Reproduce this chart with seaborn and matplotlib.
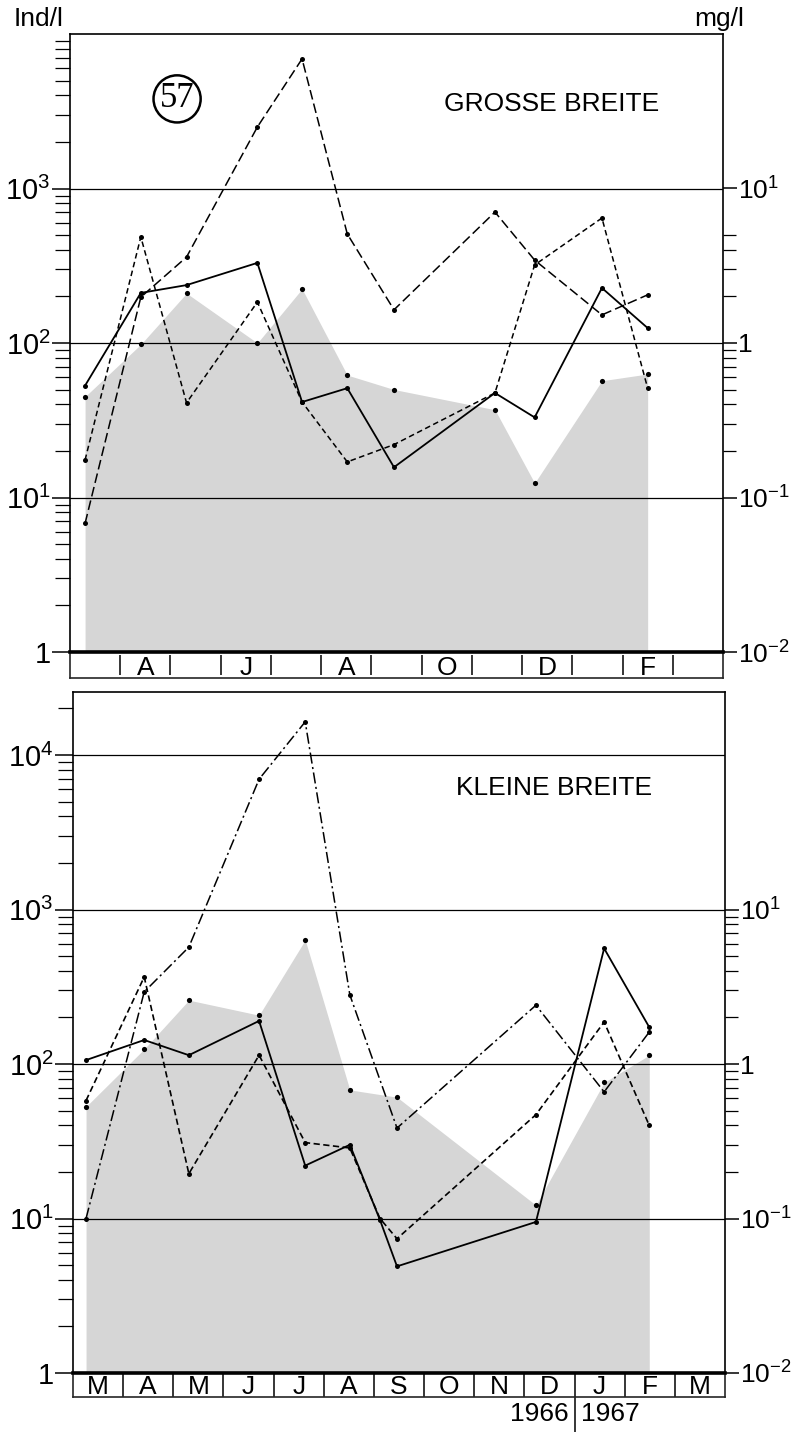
import numpy as np
import matplotlib
matplotlib.use("Agg")
import matplotlib.pyplot as plt
import seaborn as sns
from matplotlib.ticker import FixedLocator, FuncFormatter, NullFormatter

# ------------------------------------------------------------------ data
nan = np.nan
# sampling dates in months after 1 March 1966
top_months = [0.30, 1.41, 2.32, 3.73, 4.62, 5.52, 6.45, 8.46, 9.25, 10.59, 11.50]
top_solid = [53, 211, 237, 330, 41.5, 51, 15.7, 47.5, 33, 227, 125]
top_dashed = [17.5, 486, 41, 184, 41.5, 17, 22, 47.5, 320, 644, 51]
top_longdash = [6.8, 198, 360, 2500, 6900, 508, 164, 704, 344, 152, 205]
top_biomass = [0.45, 0.98, 2.1, 1.0, 2.24, 0.62, 0.50, 0.37, 0.124, 0.57, 0.63]  # mg/l

bot_months = [0.26, 1.42, 2.31, 3.71, 4.63, 5.52, 6.12, 6.46, 9.23, 10.59, 11.49]
bot_solid = [106, 143, 114, 190, 22, 30, 9.8, 4.9, 9.5, 560, 173]
bot_dashed = [58, 366, 19.5, 114, 31, 28.6, 10, 7.4, 47, 187, 40]
bot_dashdot = [10, 293, 571, 6970, 16400, 280, nan, 38.5, 240, 66, 161]
bot_biomass = [0.53, 1.25, 2.59, 2.07, 6.35, 0.68, nan, 0.61, 0.122, 0.76, 1.14]  # mg/l

month_labels = ["M", "A", "M", "J", "J", "A", "S", "O", "N", "D", "J", "F", "M"]
top_shown_months = [1, 3, 5, 7, 9, 11]
year_labels = ["1966", "1967"]
year_break = 10  # Dec/Jan boundary

top_title = "GROSSE BREITE"
bot_title = "KLEINE BREITE"
station = "57"

# ------------------------------------------------------------------ style
sns.set_style("white")
plt.rcParams["font.family"] = ["Liberation Sans", "DejaVu Sans"]
plt.rcParams["mathtext.fontset"] = "custom"
plt.rcParams["mathtext.rm"] = "Liberation Sans"
plt.rcParams["lines.scale_dashes"] = False
plt.rcParams["text.color"] = "black"
plt.rcParams["axes.labelcolor"] = "black"
plt.rcParams["xtick.color"] = "black"
plt.rcParams["ytick.color"] = "black"

W, H = 798, 1432
fig = plt.figure(figsize=(W / 100, H / 100), dpi=100)
fig.patch.set_facecolor("white")


def fx(px):
    return px / W


def fy(px):
    return 1 - px / H


def pow_fmt(v, pos):
    e = int(round(np.log10(v)))
    if e == 0:
        return "1"
    return r"$\mathregular{10^{%d}}$" % e


GRAY = "#d6d6d6"


def minor_list(decades, subs):
    out = []
    for d in decades:
        for s in subs:
            out.append(s * 10.0 ** d)
    return out


def draw_panel(x0, x1, ytop, ybot, ytop_val, months, series, biomass,
               left_major, right_major, left_minor, right_minor):
    ax = fig.add_axes([fx(x0), fy(ybot), fx(x1 - x0), (ybot - ytop) / H])
    axb = ax.twinx()
    ax.set_zorder(axb.get_zorder() + 1)
    ax.patch.set_visible(False)

    for a in (ax, axb):
        a.set_yscale("log")
        a.set_xlim(0, 13)
    ax.set_ylim(1, ytop_val)
    axb.set_ylim(0.01, ytop_val / 100)

    # biomass shaded area (mg/l, right axis)
    bm = np.array(biomass, dtype=float)
    xm = np.array(months, dtype=float)
    ok = ~np.isnan(bm)
    axb.fill_between(xm[ok], bm[ok], 0.01, color=GRAY, lw=0)
    sns.scatterplot(x=xm[ok], y=bm[ok], ax=axb, color="black", s=14,
                    linewidth=0, zorder=3)

    # line series (Ind/l, left axis)
    for vals, dashes, lw in series:
        v = np.array(vals, dtype=float)
        k = ~np.isnan(v)
        sns.lineplot(x=xm[k], y=v[k], ax=ax, color="black", lw=lw,
                     marker="o", markersize=3.6, markeredgewidth=0,
                     sort=False, estimator=None, zorder=4)
        ln = ax.lines[-1]
        if dashes is not None:
            ln.set_dashes(dashes)

    # grid lines
    for g in left_major[1:]:
        ax.axhline(g, color="black", lw=0.9, zorder=2)

    ax.set_xticks([])
    axb.set_xticks([])
    ax.yaxis.set_major_locator(FixedLocator(left_major))
    ax.yaxis.set_major_formatter(FuncFormatter(pow_fmt))
    ax.yaxis.set_minor_locator(FixedLocator(left_minor))
    ax.yaxis.set_minor_formatter(NullFormatter())
    axb.yaxis.set_major_locator(FixedLocator(right_major))
    axb.yaxis.set_major_formatter(FuncFormatter(pow_fmt))
    axb.yaxis.set_minor_locator(FixedLocator(right_minor))
    axb.yaxis.set_minor_formatter(NullFormatter())

    ax.tick_params(axis="y", which="major", direction="out", length=13,
                   width=1.1, labelsize=21, pad=1, left=True, right=False,
                   colors="black")
    ax.tick_params(axis="y", which="minor", direction="out", length=11,
                   width=0.9, left=True, right=False)
    axb.tick_params(axis="y", which="major", direction="out", length=10,
                    width=1.1, labelsize=19, pad=1, right=True, left=False,
                    colors="black")
    axb.tick_params(axis="y", which="minor", direction="out", length=9,
                    width=0.9, right=True, left=False)

    for s in axb.spines.values():
        s.set_visible(False)
    for name, s in ax.spines.items():
        s.set_visible(True)
        s.set_color("black")
        s.set_linewidth(1.2)
    ax.spines["bottom"].set_linewidth(2.6)
    return ax, axb


# ------------------------------------------------------------------ top panel
ax1, ax1b = draw_panel(
    70, 723, 34, 652, 1e4, top_months,
    [(top_solid, None, 1.3), (top_dashed, (4, 2.5), 1.1),
     (top_longdash, (7, 3), 1.1)],
    top_biomass,
    [1, 10, 100, 1000], [0.01, 0.1, 1, 10],
    minor_list([0, 1, 2, 3], range(2, 10)),
    minor_list([-1], range(2, 10)) + [2, 3, 4, 5])

ax1.text(0.164, 0.895, station, transform=ax1.transAxes, ha="center",
         va="center", fontsize=25, family="Liberation Serif",
         bbox=dict(boxstyle="circle,pad=0.18", fc="white", ec="black", lw=1.8),
         zorder=6)
ax1.text(0.737, 0.887, top_title, transform=ax1.transAxes, ha="center",
         va="center", fontsize=19)

# month strip of top panel
s1 = fig.add_axes([fx(70), fy(678), fx(653), 26 / H])
s1.set_xlim(0, 13)
s1.set_ylim(0, 1)
s1.set_xticks([])
s1.set_yticks([])
s1.patch.set_visible(False)
s1.spines["top"].set_visible(False)
for nm in ("left", "right", "bottom"):
    s1.spines[nm].set_linewidth(1.2)
for i in top_shown_months:
    s1.vlines([i, i + 1], 0.1, 0.9, color="black", lw=1.1)
    s1.text(i + 0.5, 0.40, month_labels[i], ha="center", va="center",
            fontsize=19)

# ------------------------------------------------------------------ bottom panel
ytop_bot = 10 ** ((1373 - 692) / 154.5)
ax2, ax2b = draw_panel(
    73, 725, 692, 1373, ytop_bot, bot_months,
    [(bot_solid, None, 1.3), (bot_dashed, (4.5, 2.5), 1.2),
     (bot_dashdot, (8, 2.5, 1.5, 2.5), 1.1)],
    bot_biomass,
    [1, 10, 100, 1000, 10000], [0.01, 0.1, 1, 10],
    minor_list([0, 1, 2, 3], range(2, 10)) + [20000],
    minor_list([-1, 0], range(2, 10)))

ax2.text(0.738, 0.859, bot_title, transform=ax2.transAxes, ha="center",
         va="center", fontsize=19)

s2 = fig.add_axes([fx(73), fy(1397), fx(652), 24 / H])
s2.set_xlim(0, 13)
s2.set_ylim(0, 1)
s2.set_xticks([])
s2.set_yticks([])
s2.patch.set_visible(False)
s2.spines["top"].set_visible(False)
for nm in ("left", "right", "bottom"):
    s2.spines[nm].set_linewidth(1.2)
s2.vlines(range(1, 13), 0, 1, color="black", lw=1.1)
for i, lab in enumerate(month_labels):
    s2.text(i + 0.5, 0.40, lab, ha="center", va="center", fontsize=19)
s2.axvline(year_break, ymin=-1.45, ymax=0, color="black", lw=1.1,
           clip_on=False)
s2.text(year_break - 0.12, -0.72, year_labels[0], ha="right", va="center",
        fontsize=19, clip_on=False)
s2.text(year_break + 0.12, -0.72, year_labels[1], ha="left", va="center",
        fontsize=19, clip_on=False)

# ------------------------------------------------------------------ unit labels
fig.text(fx(39), fy(19), "Ind/l", ha="center", va="center", fontsize=19)
fig.text(fx(719), fy(19), "mg/l", ha="center", va="center", fontsize=19)

fig.savefig("out.png", dpi=100, facecolor="white")
